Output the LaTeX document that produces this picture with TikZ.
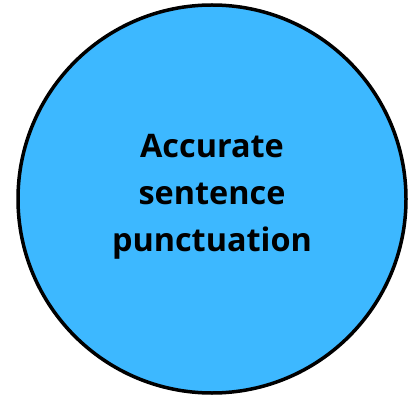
\documentclass[tikz,border=0pt]{standalone}
\usepackage{fontspec}
\setmainfont{Open Sans}
\definecolor{circfill}{HTML}{3DB8FF}
\tikzset{bigcircle/.style={circle, draw=black, line width=3.5pt, fill=circfill, minimum size=388pt, inner sep=0pt},
  label text/.style={font=\fontsize{32.4}{47}\selectfont\bfseries, align=center}}
\begin{document}
\begin{tikzpicture}[x=1pt,y=1pt]
\useasboundingbox (0,0) rectangle (414,399);
\node[bigcircle] (c) at (212,200) {};
\node[label text] (t) at (212,202) {Accurate\\sentence\\punctuation};
\end{tikzpicture}
\end{document}
